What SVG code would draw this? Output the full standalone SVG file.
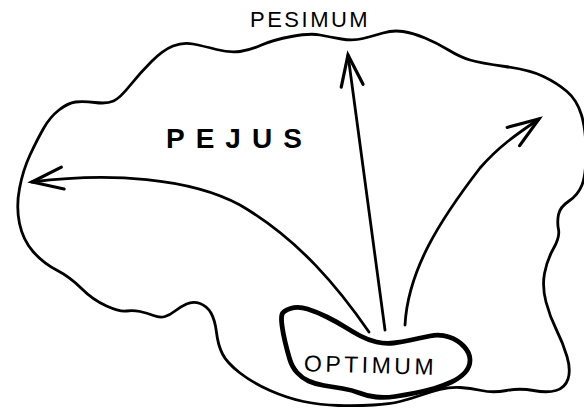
<svg xmlns="http://www.w3.org/2000/svg" width="584" height="409" viewBox="0 0 584 409">
  <style>
    .outline { fill: none; stroke: #000; stroke-width: 2.8; stroke-linejoin: round; stroke-linecap: round; }
    .core { fill: #fff; stroke: #000; stroke-width: 4.8; stroke-linejoin: round; }
    .arrow { fill: none; stroke: #000; stroke-width: 2.8; stroke-linecap: round; marker-end: url(#head); }
    .label { font-family: "Liberation Sans", Arial, sans-serif; fill: #000; }
    .thin { font-size: 22px; letter-spacing: 2.5px; }
    .bold { font-size: 28px; font-weight: bold; letter-spacing: 11px; }
  </style>
  <defs>
    <marker id="head" markerUnits="userSpaceOnUse" markerWidth="40" markerHeight="40" refX="0" refY="0" orient="auto" overflow="visible">
      <path d="M-31,-11 L0,0 L-31,11" fill="none" stroke="#000" stroke-width="3.2" stroke-linecap="round" stroke-linejoin="miter"/>
    </marker>
  </defs>
  <rect width="584" height="409" fill="#fff"/>

  <g id="pejus">
    <path class="outline" d="M30,155 Q37,140 43.5,128.5 Q50,117 59,110 Q68,103 75.5,102 Q83,101 95,102.5 Q107,104 113.5,101 Q120,98 130,85.5 Q140,73 151.5,61.5 Q163,50 173,46 Q183,42 193,44 Q203,46 216.5,49.5 Q230,53 240,51.5 Q250,50 261.5,45 Q273,40 291.5,36.5 Q310,33 320,35 Q330,37 341.5,39 Q353,41 363,38.5 Q373,36 383,33 Q393,30 403,31.5 Q413,33 425,38 Q437,43 448.5,50 Q460,57 470,60 Q480,63 505,66.5 Q530,70 543.5,76.5 Q557,83 567,91.5 Q577,100 581.5,115 Q586,130 586,152.5 Q586,175 582,185 Q578,195 569,201 Q560,207 558.5,214.5 Q557,222 558.5,229.5 Q560,237 553.5,248.5 Q547,260 544.5,273.5 Q542,287 546,302 Q550,317 556.5,330 Q563,343 567,356.5 Q571,370 568,379 Q565,388 556,390.5 Q547,393 533.5,390.5 Q520,388 506.5,390.5 Q493,393 481.5,390.5 Q470,388 460,387.5 Q450,387 440,389.5 Q430,392 420,395.5 Q410,399 400,401.5 Q390,404 373.5,405 Q357,406 338.5,405.5 Q320,405 303.5,401.5 Q287,398 270,390.5 Q253,383 240,373 Q227,363 222.5,354 Q218,345 216.5,332.5 Q215,320 211,313 Q207,306 200,303.5 Q193,301 186.5,304 Q180,307 175,311 Q170,315 165,316.5 Q160,318 153.5,315.5 Q147,313 140,311.5 Q133,310 126.5,311 Q120,312 106.5,306 Q93,300 81.5,288.5 Q70,277 56.5,270 Q43,263 33,251.5 Q23,240 19.5,223.5 Q16,207 19.5,188.5 Q23,170 30,155 Z"/>
    <text class="label bold" x="166" y="148">PEJUS</text>
  </g>

  <g id="pesimum">
    <text class="label thin" x="250" y="27">PESIMUM</text>
  </g>

  <g id="optimum">
    <path class="core" d="M282,314.5 Q283,311 290.5,308.5 Q298,306 307.5,309 Q317,312 327,317 Q337,322 345,327 Q353,332 360.5,336 Q368,340 376.5,342 Q385,344 393.5,343 Q402,342 411,340 Q420,338 430,336 Q440,334 449,337 Q458,340 464,346.5 Q470,353 470,360 Q470,367 465,372.5 Q460,378 451.5,382 Q443,386 434,388.5 Q425,391 415,393 Q405,395 395,396.5 Q385,398 376,397 Q367,396 359.5,393 Q352,390 342.5,388.5 Q333,387 324,385.5 Q315,384 308.5,381 Q302,378 297,372.5 Q292,367 289.5,358.5 Q287,350 285,341.5 Q283,333 282,325.5 Q281,318 282,314.5 Z"/>
    <text class="label thin" x="304" y="373" transform="rotate(1.5 370 365)" style="font-size:23px;letter-spacing:3.5px">OPTIMUM</text>
  </g>

  <g id="connectors">
    <path class="arrow" d="M369,332 C340,290 300,240 240,205 C190,178 110,172 32,182"/>
    <path class="arrow" d="M385,330 L348,55"/>
    <path class="arrow" d="M405,325 C408,270 440,220 480,168 C500,145 520,132 539,119"/>
  </g>
</svg>
